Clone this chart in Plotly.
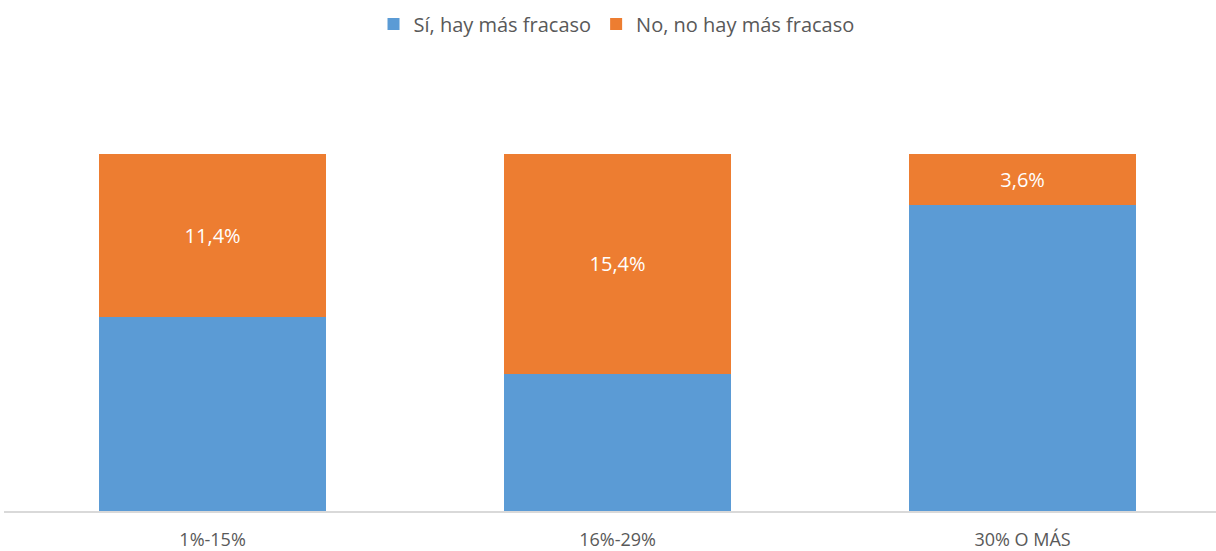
import plotly.graph_objects as go

# Share of cases per range, stacked to 100% within each category
categories = ["1%-15%", "16%-29%", "30% O MÁS"]
si_values = [13.5, 9.6, 21.6]
no_values = [11.4, 15.4, 3.6]
series_names = ["Sí, hay más fracaso", "No, no hay más fracaso"]

BLUE = "#5B9BD5"
ORANGE = "#ED7D31"
GREY_TEXT = "#595959"
FONT = "Open Sans"


def fmt(v):
    return f"{v:.1f}".replace(".", ",") + "%"


fig = go.Figure()
fig.add_trace(go.Bar(
    x=categories, y=si_values, name=series_names[0],
    marker=dict(color=BLUE, line=dict(width=0)),
    width=0.56,
))
fig.add_trace(go.Bar(
    x=categories, y=no_values, name=series_names[1],
    marker=dict(color=ORANGE, line=dict(width=0)),
    width=0.56,
    text=[fmt(v) for v in no_values],
    textposition="inside", insidetextanchor="middle",
    textfont=dict(color="white", size=20, family=FONT),
    textangle=0,
))

fig.update_layout(
    barmode="stack", barnorm="percent",
    width=1216, height=551,
    margin=dict(l=4, r=0, t=154, b=40),
    paper_bgcolor="white", plot_bgcolor="white",
    font=dict(family=FONT, color=GREY_TEXT, size=18),
    showlegend=True,
    legend=dict(
        orientation="h", traceorder="normal",
        xref="container", x=0.507, xanchor="center",
        yref="container", y=1 - 24 / 551, yanchor="middle",
        font=dict(size=20, color=GREY_TEXT, family=FONT),
        tracegroupgap=0,
    ),
)
fig.update_xaxes(
    range=[-0.515, -0.515 + 1212 / 405],
    showline=True, linecolor="#D9D9D9", linewidth=1.5,
    ticks="", showgrid=False, zeroline=False,
    tickfont=dict(size=18, color=GREY_TEXT, family=FONT),
    ticklabelstandoff=12, automargin=False,
)
fig.update_yaxes(
    range=[0, 100], visible=False, showgrid=False, zeroline=False,
    automargin=False,
)

fig.write_html("out.html")
